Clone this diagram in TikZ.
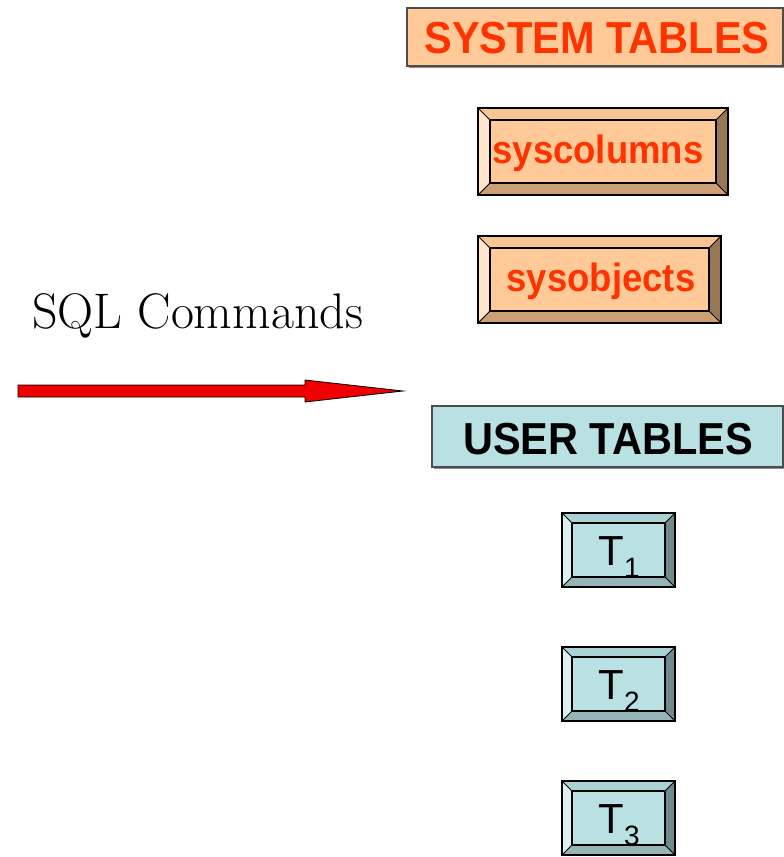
\documentclass[tikz,border=0pt]{standalone}
\usepackage{fontspec}
\newfontfamily\arialf{Liberation Sans}
\usetikzlibrary{calc}
\definecolor{peach}{RGB}{255,202,152}
\definecolor{peachL}{RGB}{255,230,205}
\definecolor{peachT}{RGB}{248,196,146}
\definecolor{peachR}{RGB}{153,119,85}
\definecolor{peachB}{RGB}{204,160,116}
\definecolor{sysred}{RGB}{255,51,0}
\definecolor{lblue}{RGB}{185,224,227}
\definecolor{lblueL}{RGB}{222,241,242}
\definecolor{lblueT}{RGB}{170,210,213}
\definecolor{lblueR}{RGB}{111,138,140}
\definecolor{lblueB}{RGB}{148,180,182}
\definecolor{arrred}{RGB}{240,0,0}
\newcommand{\mybevels}[6]{%
  \coordinate (#1-a) at ([shift={(#2,-#2)}]#1.north west);
  \coordinate (#1-b) at ([shift={(-#2,-#2)}]#1.north east);
  \coordinate (#1-c) at ([shift={(-#2,#2)}]#1.south east);
  \coordinate (#1-d) at ([shift={(#2,#2)}]#1.south west);
  \fill[#3] (#1.north west) -- (#1-a) -- (#1-d) -- (#1.south west) -- cycle;
  \fill[#4] (#1.north west) -- (#1.north east) -- (#1-b) -- (#1-a) -- cycle;
  \fill[#5] (#1.north east) -- (#1.south east) -- (#1-c) -- (#1-b) -- cycle;
  \fill[#6] (#1.south west) -- (#1.south east) -- (#1-c) -- (#1-d) -- cycle;
  \draw[line width=0.9pt] (#1.north west) -- (#1-a) (#1.north east) -- (#1-b)
     (#1.south east) -- (#1-c) (#1.south west) -- (#1-d);
  \draw[line width=1.5pt] (#1-a) rectangle (#1-c);
  \draw[line width=1.3pt] (#1.north west) rectangle (#1.south east);
}
\begin{document}
\begin{tikzpicture}[x=1pt,y=-1pt,
  flatbox/.style={draw=black!70, line width=1.2pt, inner sep=0pt, outer sep=0pt},
  bevbox/.style={inner sep=0pt, outer sep=0pt},
  bigsans/.style={font=\arialf\bfseries\fontsize{41.5}{41.5}\selectfont},
  midsans/.style={font=\arialf\bfseries\fontsize{36.5}{36.5}\selectfont},
  tsans/.style={font=\arialf\fontsize{42}{42}\selectfont}]
\useasboundingbox (0,0) rectangle (784,857);
% SYSTEM TABLES
\fill[black!45] (409,10) rectangle (785,68);
\node[flatbox, fill=peach, minimum width=376pt, minimum height=58pt] (sys) at (595,37) {};
\node[bigsans, text=sysred] (systxt) at (597,38) {\scalebox{1}[1.08]{SYSTEM TABLES}};
% syscolumns
\node[bevbox, fill=peach, minimum width=250pt, minimum height=87pt] (scol) at (603,151.5) {};
\mybevels{scol}{12pt}{peachL}{peachT}{peachR}{peachB}
\node[midsans, text=sysred] (scoltxt) at (598,153) {\scalebox{1}[1.08]{syscolumns}};
% sysobjects
\node[bevbox, fill=peach, minimum width=243pt, minimum height=87pt] (sobj) at (599.5,279.5) {};
\mybevels{sobj}{12pt}{peachL}{peachT}{peachR}{peachB}
\node[midsans, text=sysred] (sobjtxt) at (601,281) {\scalebox{1}[1.08]{sysobjects}};
% SQL Commands
\node[anchor=base west, inner sep=0pt, font=\fontsize{50}{50}\selectfont] (sql) at (32,328) {SQL Commands};
% arrow
\coordinate (ar) at (18,391);
\draw[fill=arrred, line width=0.8pt, line join=miter]
  ([yshift=6pt]ar) -- (305,385) -- (305,380) -- (403,391) -- (305,402) -- (305,397) -- ([yshift=-6pt]ar) -- cycle;
% USER TABLES
\fill[black!45] (434,408) rectangle (785,469);
\node[flatbox, fill=lblue, minimum width=351pt, minimum height=61pt] (usr) at (607.5,436.5) {};
\node[bigsans, text=black] (usrtxt) at (608,439) {\scalebox{1}[1.08]{USER TABLES}};
% T boxes
\foreach \i/\y in {1/550,2/684,3/818}{
  \node[bevbox, fill=lblue, minimum width=113pt, minimum height=74pt] (t\i) at (618.5,\y) {};
  \mybevels{t\i}{10pt}{lblueL}{lblueT}{lblueR}{lblueB}
  \node[tsans, anchor=base, inner sep=0pt] (t\i txt) at (619,\y+15) {T\raisebox{-12pt}{\fontsize{28}{28}\selectfont\i}};
}
\end{tikzpicture}
\end{document}
